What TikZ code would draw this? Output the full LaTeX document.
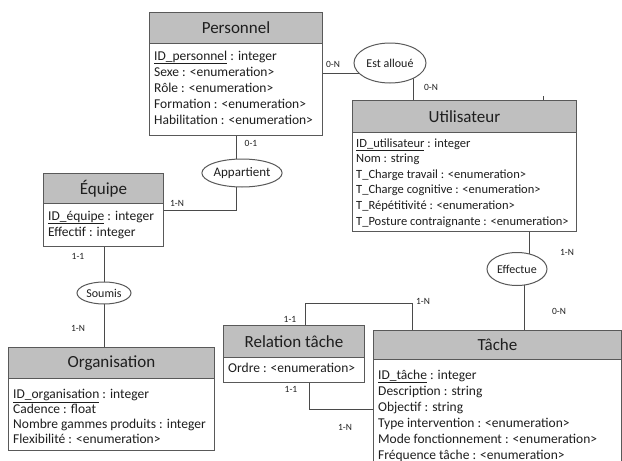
\documentclass[tikz,border=0pt]{standalone}
\usepackage{fontspec}
\setmainfont{Carlito}
\usetikzlibrary{shapes.geometric}
\pgfdeclarelayer{bg}
\pgfsetlayers{bg,main}
\definecolor{hdrc}{HTML}{BFBFBF}
\definecolor{boxc}{HTML}{595959}
\definecolor{linec}{HTML}{4A4A4A}
\definecolor{txtc}{HTML}{1E1E1E}
\begin{document}
\begin{tikzpicture}[x=1pt,y=-1pt,
  hdr/.style={draw=boxc, fill=hdrc, line width=1pt, anchor=north west, inner sep=0pt, text=txtc, font=\fontsize{17}{20}\selectfont},
  bodyb/.style={draw=boxc, fill=white, line width=1pt, anchor=north west, inner sep=0pt},
  attr/.style={anchor=base west, align=left, inner sep=0pt, text=txtc, font=\fontsize{13.5}{16}\selectfont},
  rel/.style={draw=boxc, fill=white, ellipse, inner sep=0pt, line width=1pt, text=txtc, font=\fontsize{12}{14}\selectfont},
  card/.style={font=\fontsize{9.5}{11}\selectfont, inner sep=0pt, text=txtc},
  link/.style={draw=linec, line width=1pt}]
\useasboundingbox (0,0) rectangle (622,461);
\clip (0,0) rectangle (622,461);

% Personnel
\node[hdr, minimum width=173pt, minimum height=31pt] (persh) at (149,12) {Personnel};
\node[bodyb, minimum width=173pt, minimum height=92pt] (persb) at (149,43) {};
\node[attr] (persa) at (154,124) {\underline{ID\_personnel} : integer\\Sexe : <enumeration>\\Rôle : <enumeration>\\Formation : <enumeration>\\Habilitation : <enumeration>};

% Utilisateur
\node[hdr, minimum width=224pt, minimum height=32pt] (uth) at (352,100) {Utilisateur};
\node[bodyb, minimum width=224pt, minimum height=99pt] (utb) at (352,132) {};
\node[attr, font=\fontsize{12.5}{15.6}\selectfont] (uta) at (356,225) {\underline{ID\_utilisateur} : integer\\Nom : string\\T\_Charge travail : <enumeration>\\T\_Charge cognitive : <enumeration>\\T\_Répétitivité : <enumeration>\\T\_Posture contraignante : <enumeration>};

% Equipe
\node[hdr, minimum width=120pt, minimum height=30pt] (eqh) at (43,173) {Équipe};
\node[bodyb, minimum width=120pt, minimum height=43pt] (eqb) at (43,203) {};
\node[attr, font=\fontsize{13.5}{16.5}\selectfont] (eqa) at (48,236.5) {\underline{ID\_équipe} : integer\\Effectif : integer};

% Organisation
\node[hdr, minimum width=206pt, minimum height=31pt] (orh) at (8,347) {Organisation};
\node[bodyb, minimum width=206pt, minimum height=72pt] (orb) at (8,378) {};
\node[attr, font=\fontsize{13.5}{14.8}\selectfont] (ora) at (13,443) {\underline{ID\_organisation} : integer\\Cadence : float\\Nombre gammes produits : integer\\Flexibilité : <enumeration>};

% Relation tache
\node[hdr, minimum width=141pt, minimum height=32pt] (rth) at (223,325) {Relation tâche};
\node[bodyb, minimum width=141pt, minimum height=25pt] (rtb) at (223,357) {};
\node[attr] (rta) at (228,372) {Ordre : <enumeration>};

% Tache
\node[hdr, minimum width=248pt, minimum height=29pt] (tah) at (373,330) {Tâche};
\node[bodyb, minimum width=248pt, minimum height=125pt] (tab) at (373,359) {};
\node[attr] (taa) at (378,459) {\underline{ID\_tâche} : integer\\Description : string\\Objectif : string\\Type intervention : <enumeration>\\Mode fonctionnement : <enumeration>\\Fréquence tâche : <enumeration>};

% Relations
\node[rel, minimum width=72pt, minimum height=40pt] (ea) at (390,63) {Est alloué};
\node[rel, minimum width=62pt, minimum height=28pt, font=\fontsize{13}{15}\selectfont] (ap) at (242,173) {Appartient};
\node[rel, minimum width=60pt, minimum height=33pt] (ef) at (517,269) {Effectue};
\node[rel, minimum width=54pt, minimum height=22pt] (sm) at (104,293) {Soumis};

% helper coordinates
\coordinate (y73) at (0,73);
\coordinate (x413) at (413,0);
\coordinate (x236) at (236,0);
\coordinate (y210) at (0,210);
\coordinate (x529) at (529,0);
\coordinate (x524) at (524,0);
\coordinate (x412) at (412,0);
\coordinate (y303) at (0,303);
\coordinate (x305) at (305,0);
\coordinate (x309) at (309,0);
\coordinate (y409) at (0,409);
\coordinate (x543) at (543,0);

\begin{pgfonlayer}{bg}
\draw[link] (persb.east |- y73) -- (ea.center |- y73);
\draw[link] (x413 |- ea.center) -- (x413 |- uth.north);
\draw[link] (x236 |- persb.south) -- (x236 |- y210) -- (eqb.east |- y210);
\draw[link] (sm.center |- eqb.south) -- (sm.center |- orh.north);
\draw[link] (x529 |- utb.south) -- (x529 |- ef.center);
\draw[link] (x524 |- ef.center) -- (x524 |- tah.north);
\draw[link] (x412 |- tah.north) -- (x412 |- y303) -- (x305 |- y303) -- (x305 |- rth.north);
\draw[link] (x309 |- rtb.south) -- (x309 |- y409) -- (tab.west |- y409);
\draw[link] (x543 |- uth.north) -- ++(0,-4);
\end{pgfonlayer}

% cardinalities
\node[card] (c1) at (333,64) {0-N};
\node[card] (c2) at (431,87) {0-N};
\node[card] (c3) at (251,143) {0-1};
\node[card] (c4) at (177,203) {1-N};
\node[card] (c5) at (78,256) {1-1};
\node[card] (c6) at (78,328) {1-N};
\node[card] (c7) at (567,252) {1-N};
\node[card] (c8) at (559,311) {0-N};
\node[card] (c9) at (423,301) {1-N};
\node[card] (c10) at (290,319) {1-1};
\node[card] (c11) at (291,389) {1-1};
\node[card] (c12) at (345,427) {1-N};
\end{tikzpicture}
\end{document}
